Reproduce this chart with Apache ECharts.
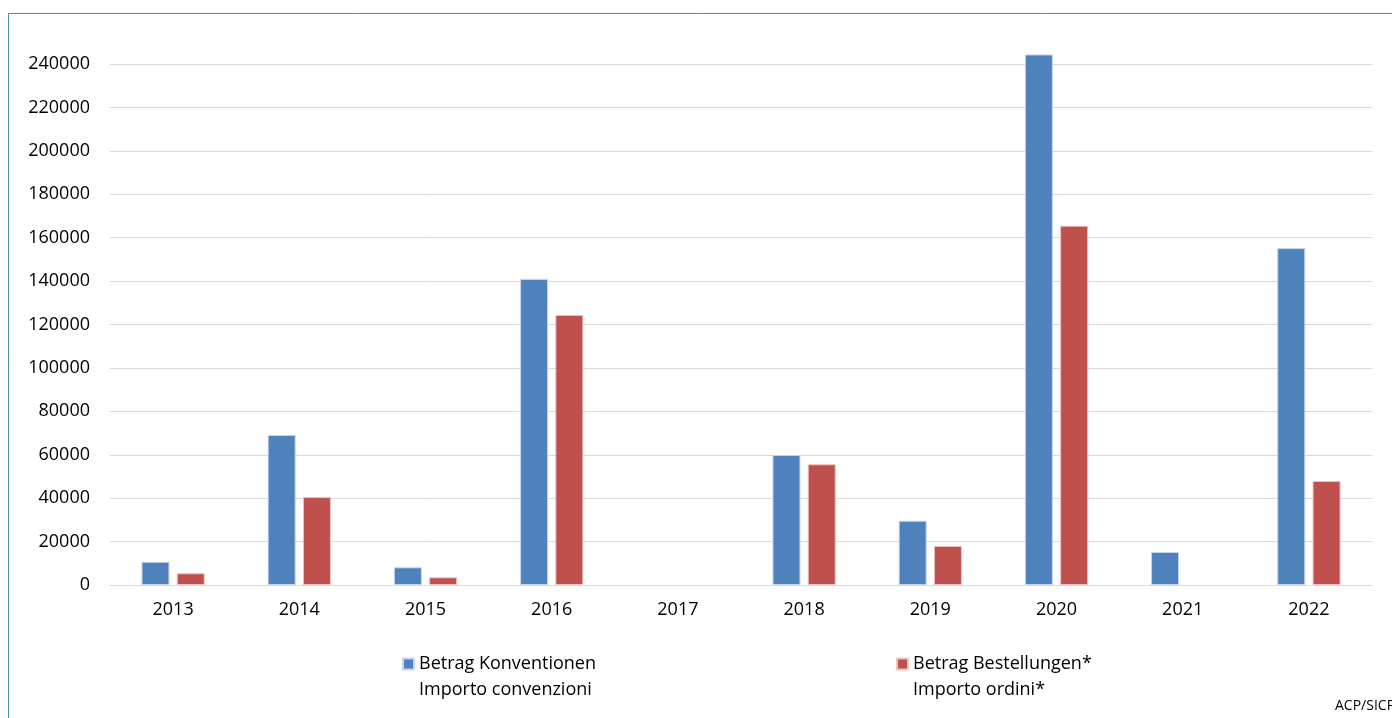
<!DOCTYPE html>
<html><head><meta charset="utf-8">
<script src="https://cdn.jsdelivr.net/npm/echarts@6/dist/echarts.min.js"></script>
<style>html,body{margin:0;padding:0;background:#fff}#c{width:1392px;height:718px}</style>
</head><body><div id="c"></div>
<script>
const categories = ['2013','2014','2015','2016','2017','2018','2019','2020','2021','2022'];
const konventionen = [10700, 69100, 8150, 141000, 0, 59900, 29600, 244400, 15200, 155200];
const bestellungen = [5400, 40500, 3550, 124400, 0, 55600, 18000, 165500, 0, 47900];
const yTicks = [0, 20000, 40000, 60000, 80000, 100000, 120000, 140000, 160000, 180000, 200000, 220000, 240000];
const nameK = 'Betrag Konventionen';
const nameB = 'Betrag Bestellungen*';
const subK = 'Importo convenzioni';
const subB = 'Importo ordini*';
const FONT = 'Open Sans';

const noZero = arr => arr.map(v => (v === 0 ? null : v));
const chart = echarts.init(document.getElementById('c'));
const legendText = { fontFamily: FONT, fontSize: 18, color: '#000' };
chart.setOption({
  animation: false,
  textStyle: { fontFamily: FONT },
  graphic: [
    { type: 'rect', shape: { x: 8.5, y: 13.5, width: 1400, height: 720 },
      style: { fill: 'none', stroke: '#4a8ba3', lineWidth: 1 }, silent: true },
    { type: 'text', left: 1335, top: 699,
      style: { text: 'ACP/SICP', fontFamily: FONT, fontSize: 14, fill: '#000' } },
    { type: 'text', left: 419, top: 681,
      style: { text: subK, fontFamily: FONT, fontSize: 18, fill: '#000' } },
    { type: 'text', left: 913, top: 681,
      style: { text: subB, fontFamily: FONT, fontSize: 18, fill: '#000' } }
  ],
  grid: { left: 110, right: 20, top: 64, bottom: 133 },
  legend: [
    { left: 402, top: 655, padding: 0, itemWidth: 11, itemHeight: 11, icon: 'rect',
      data: [nameK], textStyle: legendText },
    { left: 896, top: 655, padding: 0, itemWidth: 11, itemHeight: 11, icon: 'rect',
      data: [nameB], textStyle: legendText }
  ],
  xAxis: {
    type: 'category', data: categories,
    axisLine: { lineStyle: { color: '#d9d9d9', width: 1 } },
    axisTick: { show: false },
    axisLabel: { fontFamily: FONT, fontSize: 18, color: '#000', margin: 16 }
  },
  yAxis: {
    type: 'value', min: 0, max: yTicks[yTicks.length - 1], interval: 20000,
    axisLine: { show: false }, axisTick: { show: false },
    splitLine: { lineStyle: { color: '#d9d9d9', width: 1 } },
    axisLabel: { fontFamily: FONT, fontSize: 18, color: '#000', margin: 20,
      formatter: v => String(v) }
  },
  series: [
    { name: nameK, type: 'bar', data: noZero(konventionen), clip: false,
      barWidth: 28, barGap: '26%',
      itemStyle: { color: '#4f81bd', borderColor: '#c6d5ea', borderWidth: 1 } },
    { name: nameB, type: 'bar', data: noZero(bestellungen), clip: false,
      barWidth: 28,
      itemStyle: { color: '#c0504d', borderColor: '#ecc4c3', borderWidth: 1 } }
  ]
});
</script></body></html>
